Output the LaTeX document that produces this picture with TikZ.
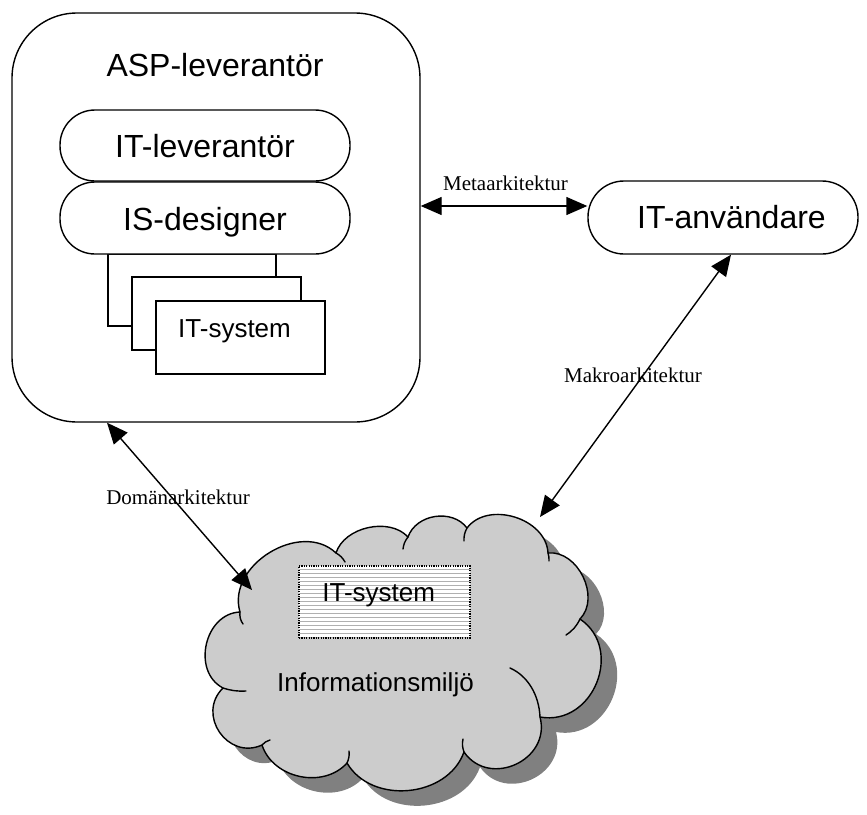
\documentclass[tikz,border=0pt]{standalone}
\usepackage{fontspec}
\setmainfont{Liberation Sans}
\newfontfamily\labelfont{Liberation Serif}
\usetikzlibrary{arrows.meta}

% outline of the cloud, traced clockwise from its left side
\newcommand\cloudoutline{%
  (240,612) to[bend left=75,looseness=1.1] (336,553)
  to[bend left=60,looseness=0.95] (408,537)
  to[bend left=62,looseness=1.05] (467,528)
  to[bend left=70,looseness=1.05] (548,553)
  to[bend left=70,looseness=1.05] (580,619)
  to[bend left=78,looseness=1.3] (540,717)
  to[bend left=80,looseness=1.36] (464,752)
  to[bend left=65,looseness=1.06] (347,763)
  to[bend left=60,looseness=1.04] (262,745)
  to[bend left=80,looseness=1.4] (223,688)
  to[bend left=75,looseness=1.17] (240,612) -- cycle}

\definecolor{cloudfill}{RGB}{204,204,204}
\definecolor{cloudshadow}{RGB}{128,128,128}
\definecolor{hatch}{RGB}{176,176,176}

\begin{document}
\begin{tikzpicture}[x=1pt,y=-1pt,line width=1.4pt,
  box/.style={draw,fill=white,line width=1.4pt,inner sep=0pt},
  pill/.style={box,rounded corners=35pt,minimum width=290pt,minimum height=71pt},
  sysbox/.style={box,minimum width=169pt,minimum height=73pt},
  bigtext/.style={font=\fontsize{32}{38}\selectfont,anchor=base,inner sep=0pt},
  midtext/.style={font=\fontsize{26}{31}\selectfont,anchor=base,inner sep=0pt},
  archlabel/.style={font=\labelfont\fontsize{21}{25}\selectfont,anchor=base,inner sep=0pt},
  link/.style={line width=1.4pt,{Triangle[length=21pt,width=18pt]}-{Triangle[length=21pt,width=18pt]}}
]
\useasboundingbox (0,0) rectangle (867,814);

% ASP provider with its stacked roles and systems
\node[box,rounded corners=65pt,minimum width=408pt,minimum height=409pt] (asp) at (216,217.5) {};
\node[bigtext] (asptxt) at (215,76) {ASP-leverantör};

\node[sysbox,minimum width=168pt,minimum height=72pt] (sysA) at (192,290) {};
\node[sysbox] (sysB) at (216.5,313.5) {};
\node[sysbox] (sysC) at (240.5,337.5) {};
\node[midtext] (sysCtxt) at (234.5,337) {IT-system};

\node[pill] (itlev) at (205,145.5) {};
\node[bigtext] (itlevtxt) at (205,157) {IT-leverantör};
\node[pill,minimum height=72pt] (isdes) at (205,218) {};
\node[bigtext] (isdestxt) at (205,230) {IS-designer};

% IT user
\node[pill,rounded corners=36pt,minimum width=270pt,minimum height=73pt] (ita) at (723,217.5) {};
\node[bigtext] (itatxt) at (731.5,228.5) {IT-användare};

% information environment: shadow, cloud and the inner arcs of the puffs
\begin{scope}[shift={(16,15)}]
  \fill[cloudshadow] \cloudoutline;
\end{scope}
\filldraw[fill=cloudfill,draw=black,line width=1.4pt,line join=round] \cloudoutline;
\begin{scope}[line width=1.4pt,line cap=round]
  \draw (240,612) to[bend right=20] (243,624);
  \draw (336,553) to[bend left=15] (345,562);
  \draw (408,537) to[bend right=15] (403,549);
  \draw (467,528) to[bend right=15] (464,541);
  \draw (548,553) to[bend left=10] (549,561);
  \draw (580,619) to[bend left=15] (566,635);
  \draw (540,717) .. controls (539,695) and (528,676) .. (510,668);
  \draw (464,752) to[bend left=15] (463,739);
  \draw (347,763) to[bend right=15] (349,751);
  \draw (262,745) to[bend left=15] (270,740);
  \draw (223,688) to[bend right=10] (246,691);
\end{scope}
\coordinate (cloudtop) at (540,517);
\coordinate (cloudleft) at (252,590);

% hatched IT system inside the cloud
\fill[white] (299,566) rectangle (470,638);
\foreach \yy in {569,573,...,637}
  \draw[hatch,line width=0.6pt] (299,\yy) -- (470,\yy);
\node[draw,dash pattern=on 1.2pt off 1.2pt,line width=1.3pt,inner sep=0pt,
      minimum width=171pt,minimum height=72pt] (cloudsys) at (384.5,602) {};
\node[midtext] (cloudsystxt) at (378.7,601) {IT-system};
\node[midtext] (envtxt) at (375.5,691.5) {Informationsmiljö};

% architecture relations
\draw[link] ([yshift=11.5pt]asp.east) -- ([yshift=11.5pt]ita.west);
\node[archlabel] (meta) at (505.5,190) {Metaarkitektur};

\draw[link] ([xshift=8pt]ita.south) -- (cloudtop);
\node[archlabel] (makro) at (633,382.7) {Makroarkitektur};

\draw[link] ([xshift=-109pt]asp.south) -- (cloudleft);
\node[archlabel] (doman) at (178,504) {Domänarkitektur};
\end{tikzpicture}
\end{document}
